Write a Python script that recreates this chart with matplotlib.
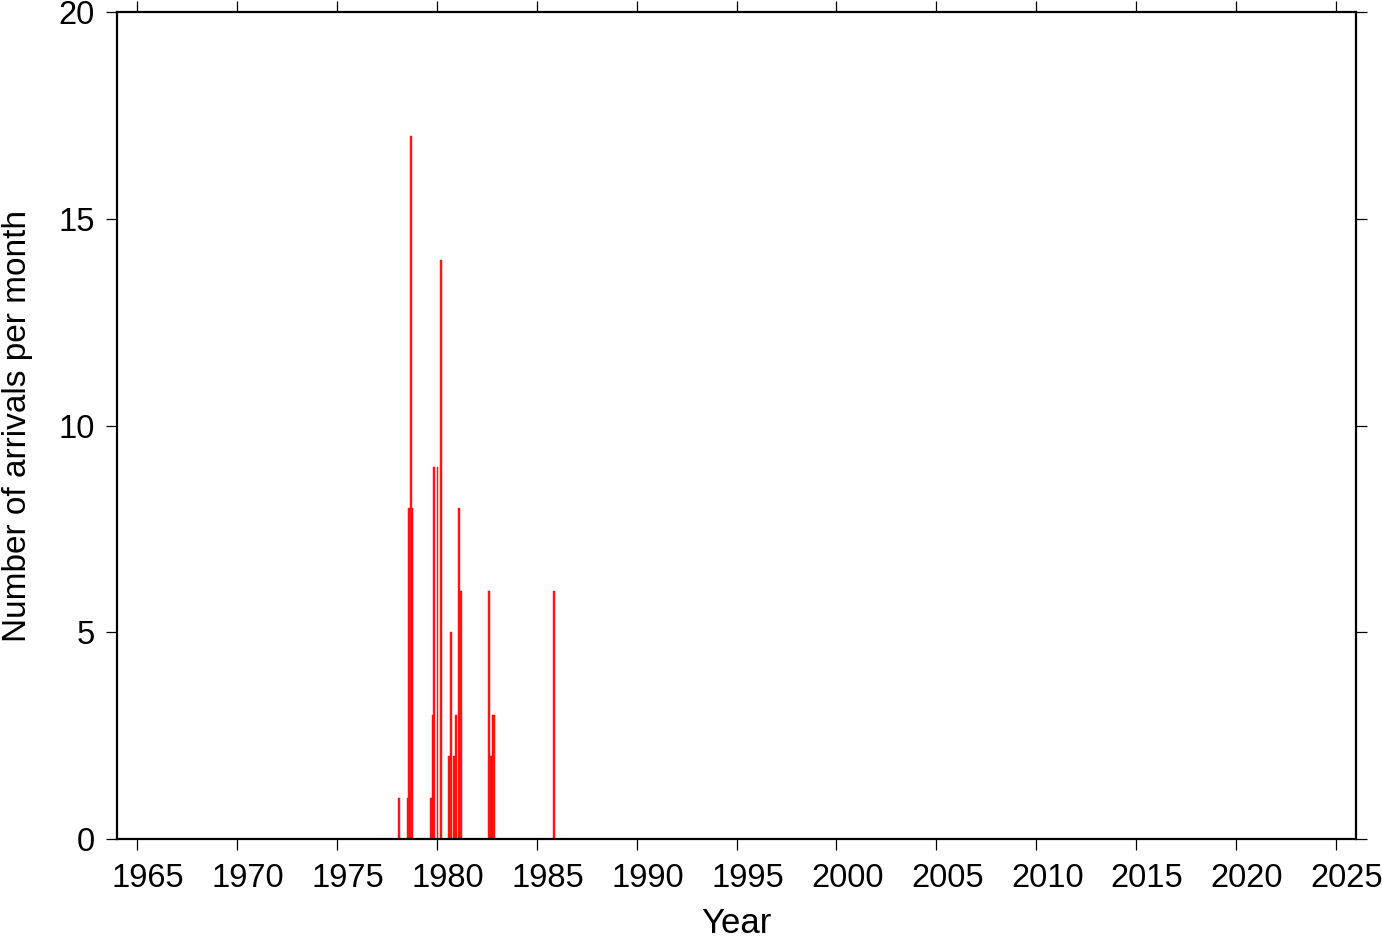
import matplotlib
matplotlib.use("Agg")
import matplotlib.pyplot as plt
import matplotlib.transforms as mtransforms

# monthly arrival counts (year, month) -> count
years = [1978, 1978, 1978, 1978, 1978,
         1979, 1979, 1979, 1980, 1980,
         1980, 1980, 1980, 1980, 1981, 1981,
         1982, 1982, 1982, 1982,
         1985]
months = [2, 7, 8, 9, 10,
          9, 10, 11, 1, 3,
          8, 9, 11, 12, 2, 3,
          8, 9, 10, 11,
          11]
counts = [1, 1, 8, 17, 8,
          1, 3, 9, 9, 14,
          2, 5, 2, 3, 8, 6,
          6, 2, 3, 3,
          6]

x_ticks = list(range(1965, 2030, 5))
y_ticks = [0, 5, 10, 15, 20]

plt.rcParams['font.family'] = ['Liberation Sans', 'DejaVu Sans']

fig = plt.figure(figsize=(13.82, 9.42), dpi=100)
ax = fig.add_axes([117 / 1382, 103 / 942, 1239 / 1382, 827 / 942])

xs = [y + (m - 1) / 12.0 for y, m in zip(years, months)]
ax.bar(xs, counts, width=1 / 12.0, align='edge', color='#ff1a1a',
       edgecolor='#ff0000', linewidth=0.3, zorder=2)

ax.set_xlim(1964, 2026)
ax.set_ylim(0, 20)
ax.set_xticks(x_ticks)
ax.set_yticks(y_ticks)

for s in ax.spines.values():
    s.set_linewidth(1.6)
    s.set_zorder(5)

ax.tick_params(axis='both', direction='out', length=8, width=0.9,
               labelsize=23.5, top=True, right=True,
               labeltop=False, labelright=False)
ax.tick_params(axis='x', pad=9)
ax.tick_params(axis='y', pad=8)

# year labels sit a little to the right of their ticks, as in the original
shift = mtransforms.ScaledTranslation(11 / 100, 0, fig.dpi_scale_trans)
for lab in ax.get_xticklabels():
    lab.set_transform(lab.get_transform() + shift)

ax.set_xlabel('Year', fontsize=25, va='bottom')
ax.xaxis.set_label_coords(0.5, -101 / 827)
ax.set_ylabel('Number of arrivals per month', fontsize=24, labelpad=18)

fig.savefig('out.png', dpi=100, facecolor='white')
